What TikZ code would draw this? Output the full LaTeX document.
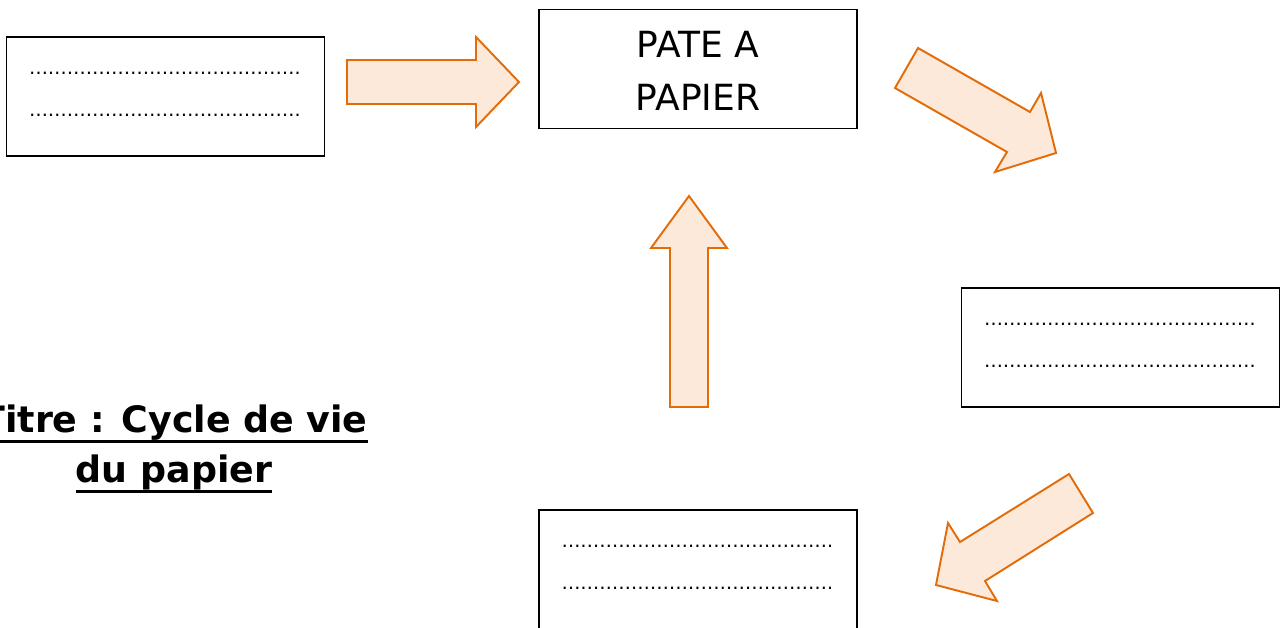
\documentclass[tikz,border=0pt]{standalone}
\usepackage{fontspec}
\setmainfont{DejaVu Sans}
\usetikzlibrary{positioning}
\definecolor{arrowline}{HTML}{E36C09}
\definecolor{arrowfill}{HTML}{FDE9D9}

\begin{document}
\begin{tikzpicture}[x=0.02cm,y=-0.02cm,
  box/.style={draw,line width=1pt,minimum width=6.36cm,minimum height=2.38cm,inner sep=0pt},
  dotline/.style={anchor=base west,inner sep=0pt,font=\fontsize{10.8}{14}\selectfont},
  bigtext/.style={anchor=base,inner sep=0pt,font=\fontsize{20.5}{24}\selectfont},
  titletext/.style={anchor=base,inner sep=0pt,font=\fontsize{20.7}{24}\selectfont\bfseries},
  blockarrow/.style={draw=arrowline,fill=arrowfill,line width=1.1pt,line join=miter}]
\useasboundingbox (0,0) rectangle (1282,627);
% boxes
\node[box] (source) at (165.5,96.5) {};
\node[box] (pate) at (698,69) {};
\node[box] (usage) at (1120.5,347.5) {};
\node[box] (collecte) at (698,569.5) {};
\node[bigtext] (pate1) at (698,57) {PATE A};
\node[bigtext] (pate2) at (698,110) {PAPIER};
\node[dotline] (source1) at ([shift={(23,38)}]source.north west) {…………………………………….};
\node[dotline] (source2) at ([shift={(23,80)}]source.north west) {…………………………………….};
\node[dotline] (usage1) at ([shift={(23,38)}]usage.north west) {…………………………………….};
\node[dotline] (usage2) at ([shift={(23,80)}]usage.north west) {…………………………………….};
\node[dotline] (collecte1) at ([shift={(23,38)}]collecte.north west) {…………………………………….};
\node[dotline] (collecte2) at ([shift={(23,80)}]collecte.north west) {…………………………………….};
% block arrows
\draw[blockarrow] (347,60) -- (476,60) -- (476,37) -- (519,82) -- (476,127) -- (476,104) -- (347,104) -- cycle;
\draw[blockarrow] (918,48) -- (1030,112) -- (1041,93) -- (1056,153) -- (995,172) -- (1007,152) -- (895,88) -- cycle;
\draw[blockarrow] (1069,474) -- (1093,513) -- (985,581) -- (997,601) -- (936,585) -- (948,523) -- (960,542) -- cycle;
\draw[blockarrow] (670,407) -- (670,248) -- (651,248) -- (689,196) -- (727,248) -- (708,248) -- (708,407) -- cycle;
% title
\node[titletext] (titre1) at (174,432) {Titre : Cycle de vie};
\node[titletext] (titre2) at (174,482) {du papier};
\draw[line width=1.7pt] ([yshift=-5.5pt]titre1.base west) -- ([yshift=-5.5pt]titre1.base east);
\draw[line width=1.7pt] ([yshift=-5.5pt]titre2.base west) -- ([yshift=-5.5pt]titre2.base east);
\end{tikzpicture}
\end{document}
